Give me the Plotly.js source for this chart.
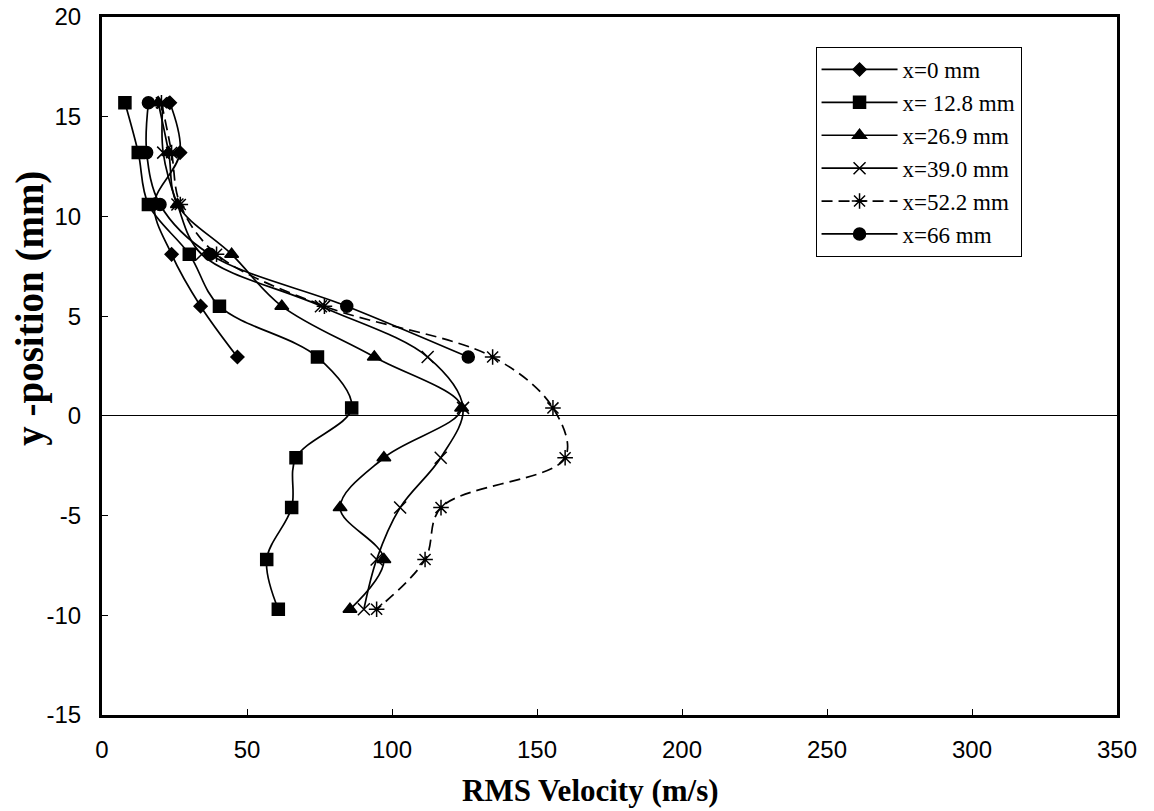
<!DOCTYPE html>
<html>
<head>
<meta charset="utf-8">
<script src="https://cdn.plot.ly/plotly-3.0.1.min.js"></script>
<style>html,body{margin:0;padding:0;background:#fff;}#chart{width:1154px;height:811px;}</style>
</head>
<body>
<div id="chart"></div>
<script>
// y-positions (mm)
const yLevels = [15.7, 13.2, 10.6, 8.1, 5.5, 2.95, 0.4, -2.1, -4.6, -7.2, -9.7];

const names = ["x=0 mm", "x= 12.8 mm", "x=26.9 mm", "x=39.0 mm", "x=52.2 mm", "x=66 mm"];

// RMS velocity (m/s) for each station
const v_x0   = [23.4, 26.9, 18.0, 24.0, 34.0, 46.7];
const v_x128 = [7.9, 12.5, 16.0, 30.1, 40.5, 74.3, 86.1, 66.9, 65.4, 56.8, 60.8];
const v_x269 = [19.4, 23.0, 26.0, 44.7, 62.0, 93.9, 124.0, 97.2, 82.1, 97.2, 85.5];
const v_x390 = [21.0, 21.1, 26.0, 34.4, 75.5, 112.3, 124.5, 116.8, 102.8, 94.7, 90.3];
const v_x522 = [20.5, 24.0, 27.0, 39.5, 76.7, 134.7, 155.5, 159.7, 116.9, 111.4, 94.7];
const v_x66  = [16.0, 15.4, 20.0, 37.2, 84.4, 126.3];

const xTicks = [0, 50, 100, 150, 200, 250, 300, 350];
const xTickText = ["0", "50", "100", "150", "200", "250", "300", "350"];
const yTicks = [-15, -10, -5, 0, 5, 10, 15, 20];
const yTickText = ["-15", "-10", "-5", "0", "5", "10", "15", "20"];

const xTitle = "RMS Velocity (m/s)";
const yTitle = "y -position (mm)";

const series = [v_x0, v_x128, v_x269, v_x390, v_x522, v_x66];
const symbols = ["diamond", "square", "triangle-up", "x-thin-open", "asterisk-open", "circle"];
const sizes = [10, 12, 12, 12, 13, 12];
const dashes = ["solid", "solid", "solid", "solid", "11px,6px", "solid"];

const traces = series.map((vals, i) => ({
  type: "scatter",
  mode: "lines+markers",
  name: names[i],
  x: vals,
  y: yLevels.slice(0, vals.length),
  line: {color: "#000", width: 1.7, shape: "spline", smoothing: 1, dash: dashes[i]},
  marker: {symbol: symbols[i], size: sizes[i], color: "#000", line: {color: "#000", width: 1.5}}
}));

const tickFont = {family: "Liberation Sans, Arial, sans-serif", size: 24, color: "#000"};
const titleFamily = "Liberation Serif, Times New Roman, serif";

const layout = {
  width: 1154, height: 811,
  margin: {l: 102, r: 37, t: 17, b: 96},
  paper_bgcolor: "#fff", plot_bgcolor: "#fff",
  showlegend: true,
  legend: {
    x: 0.703, y: 0.957, xanchor: "left", yanchor: "top",
    bgcolor: "#fff", bordercolor: "#000", borderwidth: 1,
    font: {family: titleFamily, size: 23, color: "#000"},
    itemwidth: 76, tracegroupgap: 0
  },
  xaxis: {
    range: [0, 350], tickvals: xTicks, ticktext: xTickText, ticks: "inside", ticklen: 6, tickcolor: "#000",
    showline: true, linecolor: "#000", linewidth: 3, mirror: true,
    showgrid: false, zeroline: false, ticklabelstandoff: 11,
    tickfont: tickFont
  },
  yaxis: {
    range: [-15, 20], tickvals: yTicks, ticktext: yTickText, ticks: "inside", ticklen: 6, tickcolor: "#000",
    showline: true, linecolor: "#000", linewidth: 3, mirror: true,
    showgrid: false, zeroline: true, zerolinecolor: "#000", zerolinewidth: 1, ticklabelstandoff: 13,
    tickfont: tickFont
  },
  annotations: [
    {text: xTitle, xref: "paper", yref: "paper", x: 0.4808, y: -0.1075, xanchor: "center", yanchor: "middle",
     showarrow: false, font: {family: titleFamily, size: 31, color: "#000", weight: "bold"}},
    {text: yTitle, xref: "paper", yref: "paper", x: -0.0709, y: 0.582, xanchor: "center", yanchor: "middle",
     textangle: -90, showarrow: false, font: {family: titleFamily, size: 39, color: "#000", weight: "bold"}}
  ]
};

Plotly.newPlot("chart", traces, layout, {displayModeBar: false, staticPlot: true});
</script>
</body>
</html>
